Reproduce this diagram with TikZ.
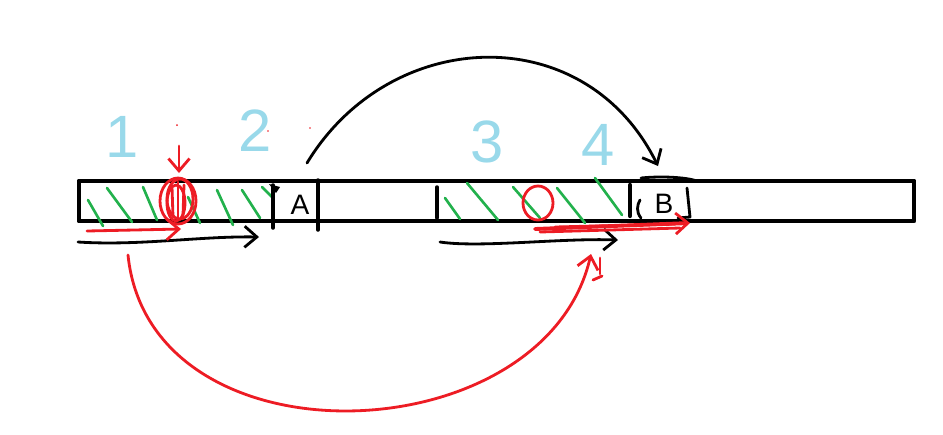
\documentclass[tikz,border=0pt]{standalone}
\usepackage{fontspec}
\setmainfont{Liberation Sans}
\usetikzlibrary{arrows.meta}
\definecolor{pred}{RGB}{237,28,36}
\definecolor{pgreen}{RGB}{34,177,76}
\definecolor{pblue}{RGB}{153,217,234}
\begin{document}
\begin{tikzpicture}[x=0.02cm,y=-0.02cm, line cap=round, line join=round,
  barline/.style={line width=2.8pt},
  ink/.style={line width=1.6pt},
  hatch/.style={pgreen,line width=1.5pt},
  redink/.style={pred,line width=1.6pt},
  num/.style={text=pblue,font=\fontsize{34}{34}\selectfont,inner sep=0pt},
  letter/.style={font=\fontsize{16}{16}\selectfont,inner sep=0pt},
  hand/.style={-{Straight Barb[length=7pt,width=12pt,line width=1.6pt]}}]
\useasboundingbox (0,0) rectangle (943,434);
% main bar
\draw[barline] (79,181) rectangle (914,221);
% labels
\node[num] (n1) at (122,137) {1};
\node[num] (n2) at (255,131) {2};
\node[num] (n3) at (487,142) {3};
\node[num] (n4) at (598,145) {4};
% green hatches region 1-2
\foreach \a/\b/\c/\d in {88/200/103/226, 107/188/132/222, 143/187/157/220, 188/197/200/223, 217/190/233/225, 242/190/260/218, 262/187/272/197}
  \draw[hatch] (\a,\b) -- (\c,\d);
% green hatches region 3-4
\foreach \a/\b/\c/\d in {445/198/460/219, 467/183/498/220, 513/187/540/218, 557/188/585/223, 595/178/622/215}
  \draw[hatch] (\a,\b) -- (\c,\d);
% box A
\draw[ink,line width=2pt] (273,185) -- (273,228);
\draw[ink,line width=2pt] (318,180) -- (318,230);
\fill (269,184) -- (280,187) -- (276,193) -- cycle;
\node[letter] (A) at (300,205) {A};
% region 3 left mark
\draw[ink,line width=2pt] (437,187) -- (437,218);
% box B
\draw[ink,line width=2.4pt] (630,185) -- (630,216);
\draw[ink] (641,218) .. controls (636,212) and (637,205) .. (640,200);
\draw[ink] (687,188) -- (690,217) -- (678,218);
\draw[ink] (641,178) .. controls (660,176) and (685,177) .. (697,181);
\node[letter] (B) at (664,204) {B};
% black arc over the top
\coordinate (ka) at (307,163);
\coordinate (kb) at (658,166);
\draw[ink,hand] (ka) .. controls (390,26) and (585,18) .. (kb);
% black arrows under the bar
\coordinate (b1s) at (78,242);
\coordinate (b1e) at (259,237);
\draw[ink,hand] (b1s) .. controls (140,246) and (200,236) .. (b1e);
\coordinate (b3s) at (440,242);
\coordinate (b3e) at (618,240);
\draw[ink,hand] (b3s) .. controls (480,248) and (560,238) .. (b3e);
% red scribbled circle region 1
\draw[redink] (178,201) ellipse [x radius=18, y radius=23];
\draw[redink] (180,199) ellipse [x radius=13, y radius=20];
\draw[redink] (176,203) ellipse [x radius=9, y radius=18];
\draw[redink] (178,182) -- (178,220);
\draw[redink] (184,185) -- (183,216);
\draw[redink] (172,187) -- (173,217);
% red down arrow
\coordinate (rd1) at (179,146);
\coordinate (rd2) at (179,173);
\draw[redink,hand] (rd1) -- (rd2);
% red arrow under region 1
\coordinate (r1s) at (87,231);
\coordinate (r1e) at (181,229);
\draw[redink,hand] (r1s) -- (r1e);
% red circle region 3
\draw[redink] (538,203) ellipse [x radius=15, y radius=17];
% red arrow under 3-4
\coordinate (r3s) at (535,229);
\coordinate (r3e) at (690,223);
\draw[redink] (540,232) -- (680,228);
\draw[redink] (555,227) -- (675,224);
\draw[redink,line width=2.2pt,hand] (r3s) -- (r3e);
% red arc below
\coordinate (ra) at (128,255);
\coordinate (rb) at (591,254);
\draw[redink,hand] (ra) .. controls (150,470) and (545,455) .. (rb);
\draw[redink] (600,258) -- (600,274);
\draw[redink] (593,280) -- (602,276);
% tiny red specks
\fill[pred] (177,125) circle (1);
\fill[pred] (268,131) circle (0.8);
\fill[pred] (310,128) circle (0.8);
\end{tikzpicture}
\end{document}
